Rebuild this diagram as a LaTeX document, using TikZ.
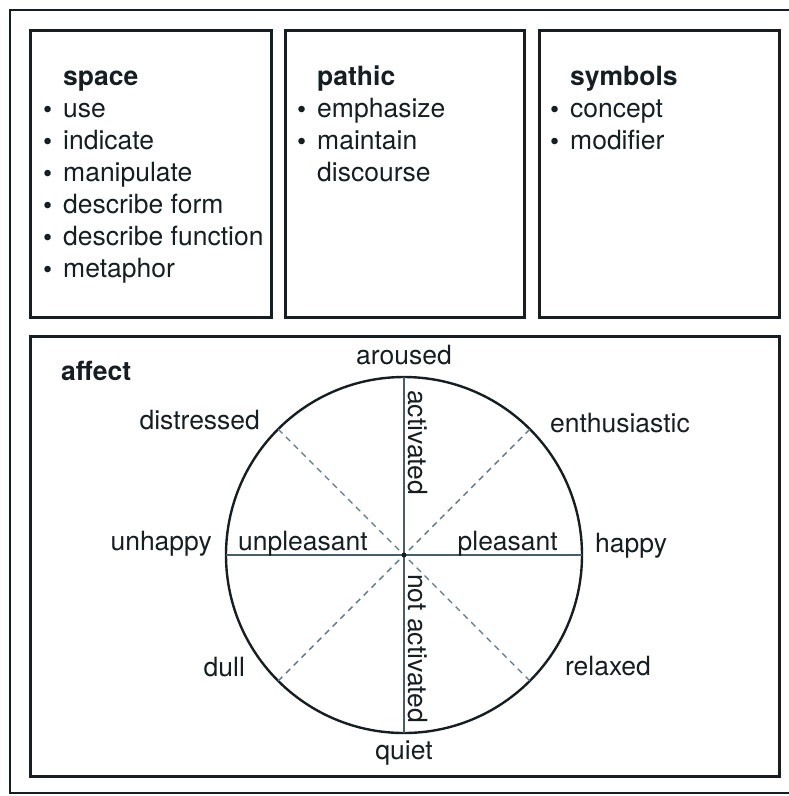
\documentclass[tikz,border=0pt]{standalone}
\usepackage{fontspec}
\setmainfont{TeX Gyre Heros}
\usetikzlibrary{positioning}
\definecolor{ink}{RGB}{22,30,34}
\definecolor{axisgray}{RGB}{70,95,108}
\definecolor{dashgray}{RGB}{95,120,135}
\newcommand{\itemdot}{\makebox[20pt][l]{\raisebox{-1pt}{\fontsize{26}{26}\selectfont\textbullet}}}
\tikzstyle{panel} = [draw=ink, line width=2.6pt, anchor=north west]
\tikzstyle{heading} = [anchor=base west, font=\fontsize{26.5}{32}\selectfont\bfseries]
\tikzstyle{entry} = [anchor=base west]
\tikzstyle{axisline} = [draw=axisgray, line width=1.4pt]
\tikzstyle{spoke} = [draw=dashgray, line width=1.4pt, dash pattern=on 6pt off 5pt]

\begin{document}
\begin{tikzpicture}[x=1pt, y=-1pt, font=\fontsize{26.5}{32}\selectfont, every node/.style={inner sep=0pt, text=ink}]
			\useasboundingbox (0,0) rectangle (788,796);
			\draw[draw=ink, line width=2.6pt] (10,10) rectangle (792,793);
			\node[panel, minimum width=241pt, minimum height=287pt] (space) at (29,29) {};
			\node[panel, minimum width=239pt, minimum height=287pt] (pathic) at (284,29) {};
			\node[panel, minimum width=240pt, minimum height=287pt] (symbols) at (538,29) {};
			\node[panel, minimum width=749pt, minimum height=440pt] (affect) at (29,335) {};
			\node[heading] at (63,85) {space};
			\foreach \t [count=\i] in {use,indicate,manipulate,describe form,describe function,metaphor}
				\node[entry] (sp\i) at (43,85+32*\i) {\itemdot\t};
			\node[heading] at (317,85) {pathic};
			\node[entry] (pa1) at (297,117) {\itemdot emphasize};
			\node[entry] (pa2) at (297,149) {\itemdot maintain};
			\node[entry] (pa3) at (317,181) {discourse};
			\node[heading] at (570,85) {symbols};
			\node[entry] (sy1) at (550,117) {\itemdot concept};
			\node[entry] (sy2) at (550,149) {\itemdot modifier};
			\node[heading] at (61,380) {affect};
			\node[draw=ink, circle, line width=2.4pt, minimum size=356pt, outer sep=0pt] (wheel) at (404,555) {};
			\draw[axisline] (wheel.west) -- (wheel.east);
			\draw[axisline] (wheel.north) -- (wheel.south);
			\foreach \a in {45,135,225,315}
				\draw[spoke] (wheel.\a) -- (wheel.center);
			\fill[ink] (wheel.center) circle (2.5pt);
			\node[above=12pt of wheel.north] (aroused) {aroused};
			\node[below=8pt of wheel.south] (quiet) {quiet};
			\node[base left=14pt of wheel.west, yshift=5pt] (unhappy) {unhappy};
			\node[base right=13pt of wheel.east, yshift=3pt] (happy) {happy};
			\node[base left=36pt of wheel.center, yshift=5pt] (unpl) {unpleasant};
			\node[base left=24pt of wheel.east, yshift=5pt] (pl) {pleasant};
			\node[base left=18pt of wheel.135] (distressed) {distressed};
			\node[base right=20pt of wheel.45, yshift=-3pt] (enth) {enthusiastic};
			\node[base left=33pt of wheel.225, yshift=4pt] (dull) {dull};
			\node[base right=35pt of wheel.315, yshift=5pt] (relaxed) {relaxed};
			\node[rotate=-90, anchor=base west] (act) at ([xshift=4pt, yshift=-13pt]wheel.north) {activated};
			\node[rotate=-90, anchor=base west] (notact) at ([xshift=4pt, yshift=-19pt]wheel.center) {not activated};
		\end{tikzpicture}
\end{document}
